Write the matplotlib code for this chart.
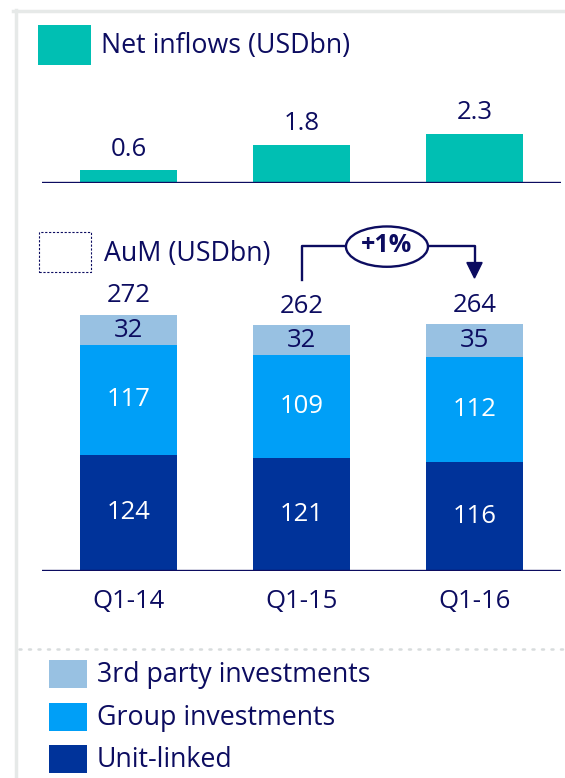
import matplotlib
matplotlib.use("Agg")
import matplotlib.pyplot as plt
from matplotlib.patches import Rectangle, Ellipse, Polygon
from matplotlib.lines import Line2D

plt.rcParams['font.family'] = ['Open Sans', 'DejaVu Sans']

categories = ["Q1-14", "Q1-15", "Q1-16"]
net_inflows = [0.6, 1.8, 2.3]
unit_linked = [124, 121, 116]
group_inv = [117, 109, 112]
third_party = [32, 32, 35]
aum_total = [272, 262, 264]
growth_label = "+1%"

NAVY_TXT = '#0c0c60'
TEAL = '#00bfb3'
C_3RD = '#98c1e2'
C_GRP = '#009ff7'
C_UL = '#00339a'
GREY = '#e6e9e8'
FS_NUM = 18.5
FS_HEAD = 19.3

W, H = 565, 778
fig = plt.figure(figsize=(W / 100, H / 100), dpi=100)

def fx(px):
    return px / W

def fy(py):
    return 1 - py / H

# Frame lines (light grey)
fig.add_artist(Line2D([fx(13), fx(565)], [fy(11), fy(11)], color=GREY, lw=2.5))
fig.add_artist(Line2D([fx(15.5), fx(15.5)], [fy(9.5), fy(778)], color=GREY, lw=2.5))

# Axes geometry
x_left, x_right = 42, 561
xlim = (-0.5, 2.5)

# Top axes: net inflows
top_base = 183
top_scale = 21.3  # px per unit
top_ylim = (0, 3)
ax1 = fig.add_axes([fx(x_left), fy(top_base), (x_right - x_left) / W,
                    top_scale * top_ylim[1] / H])
ax1.set_xlim(*xlim)
ax1.set_ylim(*top_ylim)
ax1.axis('off')
x = list(range(len(categories)))
bw = 0.56
ax1.bar(x, net_inflows, width=bw, color=TEAL, zorder=2)
ax1.axhline(0, color=NAVY_TXT, lw=1.7, zorder=3)
for xi, v in zip(x, net_inflows):
    ax1.text(xi, v + 0.4, f"{v:.1f}", ha='center', va='bottom',
             fontsize=FS_NUM, color=NAVY_TXT, clip_on=False)

# Bottom axes: AuM
bot_base = 571
bot_scale = 0.9375
bot_ylim = (0, 300)
ax2 = fig.add_axes([fx(x_left), fy(bot_base), (x_right - x_left) / W,
                    bot_scale * bot_ylim[1] / H])
ax2.set_xlim(*xlim)
ax2.set_ylim(*bot_ylim)
ax2.axis('off')
ax2.bar(x, unit_linked, width=bw, color=C_UL, zorder=2)
bottom2 = unit_linked
ax2.bar(x, group_inv, width=bw, bottom=bottom2, color=C_GRP, zorder=2)
bottom3 = [a + b for a, b in zip(unit_linked, group_inv)]
ax2.bar(x, third_party, width=bw, bottom=bottom3, color=C_3RD, zorder=2)
ax2.axhline(0, color=NAVY_TXT, lw=1.7, zorder=3)

for xi in x:
    ul, gi, tp = unit_linked[xi], group_inv[xi], third_party[xi]
    ax2.text(xi, ul / 2, f"{ul}", ha='center', va='center', fontsize=FS_NUM,
             color='white')
    ax2.text(xi, ul + gi / 2, f"{gi}", ha='center', va='center',
             fontsize=FS_NUM, color='white')
    ax2.text(xi, ul + gi + tp / 2, f"{tp}", ha='center', va='center',
             fontsize=FS_NUM, color=NAVY_TXT)
    top = ul + gi + tp
    ax2.text(xi, top + 7, f"{aum_total[xi]}", ha='center', va='bottom',
             fontsize=FS_NUM, color=NAVY_TXT, clip_on=False)
    ax2.text(xi, -19, categories[xi], ha='center', va='top', fontsize=FS_NUM,
             color=NAVY_TXT, clip_on=False)

# Growth arrow from Q1-15 to Q1-16
y_start = aum_total[1] + 48
y_top = aum_total[1] + 85
y_tip = aum_total[2] + 48.5
ax2.add_line(Line2D([1, 1, 2, 2], [y_start, y_top, y_top, y_tip + 14],
                    color=NAVY_TXT, lw=1.7, clip_on=False, zorder=4))
ax2.add_patch(Polygon([[2 - 0.044, y_tip + 16.5], [2 + 0.044, y_tip + 16.5],
                       [2, y_tip]], closed=True, color=NAVY_TXT,
                      clip_on=False, zorder=4))
ax2.add_patch(Ellipse((1.494, y_top - 1), 0.474, 43, facecolor='white',
                      edgecolor=NAVY_TXT, lw=1.7, clip_on=False, zorder=5))
ax2.text(1.494, y_top, growth_label, ha='center', va='center', fontsize=18,
         fontweight='bold', color=NAVY_TXT, zorder=6, clip_on=False)

# Section headers
fig.add_artist(Rectangle((fx(38), fy(65)), fx(91) - fx(38), fy(25) - fy(65),
                         transform=fig.transFigure, facecolor=TEAL,
                         edgecolor='none'))
fig.text(fx(101), fy(46), "Net inflows (USDbn)", ha='left', va='center',
         fontsize=FS_HEAD, color=NAVY_TXT)
fig.add_artist(Rectangle((fx(38.5), fy(271.5)), fx(91) - fx(38.5),
                         fy(232.5) - fy(271.5), transform=fig.transFigure,
                         facecolor='none', edgecolor=NAVY_TXT, lw=0.8,
                         linestyle=(0, (2, 1.5))))
fig.text(fx(104), fy(254), "AuM (USDbn)", ha='left', va='center',
         fontsize=FS_HEAD, color=NAVY_TXT)

# Dotted separator
fig.add_artist(Line2D([fx(19), fx(565)], [fy(649), fy(649)], color='#d8dcdd',
                      lw=1.8, linestyle=(0, (0.8, 3.0)),
                      dash_capstyle='round'))

# Legend
legend_items = [("3rd party investments", C_3RD, 660),
                ("Group investments", C_GRP, 703),
                ("Unit-linked", C_UL, 745)]
for label, col, ytop in legend_items:
    fig.add_artist(Rectangle((fx(49), fy(ytop + 28)), fx(87) - fx(49),
                             fy(ytop) - fy(ytop + 28),
                             transform=fig.transFigure, facecolor=col,
                             edgecolor='none'))
    fig.text(fx(97), fy(ytop + 15), label, ha='left', va='center',
             fontsize=FS_HEAD, color=NAVY_TXT)

fig.savefig("out.png", dpi=100)
